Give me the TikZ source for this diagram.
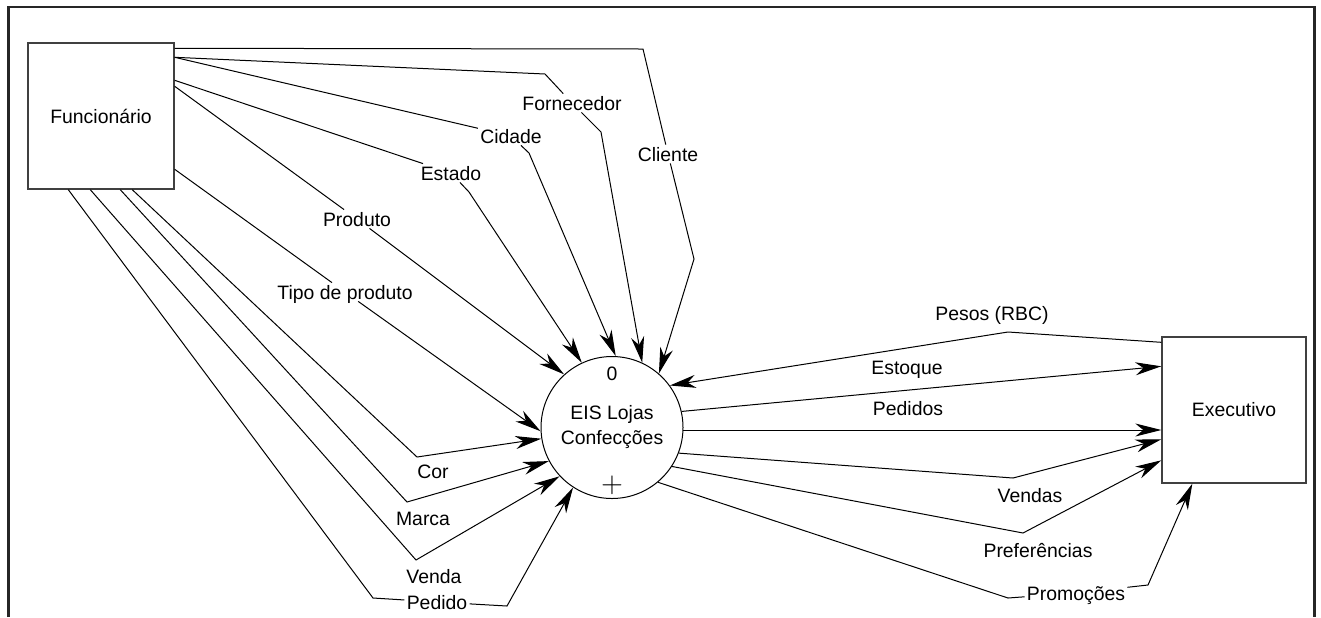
\documentclass[tikz,border=0pt]{standalone}
\usepackage{fontspec}
\setmainfont{Liberation Sans}
\usepackage{tikz}
\usetikzlibrary{arrows.meta, positioning}

\begin{document}
\begin{tikzpicture}[x=0.5pt, y=-0.5pt,
  >={Stealth[length=13pt, width=6.5pt, inset=4pt]},
  every node/.style={font=\fontsize{9.7}{12.5}\selectfont},
  entity/.style={draw=black!75, line width=0.7pt, minimum width=73pt, minimum height=73pt, inner sep=0pt},
  process/.style={draw, circle, line width=0.5pt, minimum size=71pt, inner sep=0pt, align=center},
  flow/.style={line width=0.5pt},
  lbl/.style={inner sep=1pt, text height=7pt, text depth=0pt},
  frame/.style={line width=1.3pt, black!85}]

\useasboundingbox (0,0) rectangle (1321,617);

% 外枠
\draw[frame] (8.7,617) -- (8.7,7) -- (1314.5,7) -- (1314.5,617);

% 外部エンティティ
\node[entity] (Func) at (101,116) {Funcionário};
\node[entity, minimum width=72pt] (Exec) at (1234,410) {Executivo};

% プロセス
\node[process] (EIS) at (612,427.5) {EIS Lojas\\Confecções};
\node (EISnum) at (612,374) {0};
\node (EISplus) at (612,485) {\fontsize{14}{14}\selectfont$+$};

% フローのラベル
\node[lbl] (Cli) at (668,154) {Cliente};
\node[lbl] (Forn) at (572,103) {Fornecedor};
\node[lbl] (Cid) at (511,136) {Cidade};
\node[lbl] (Est) at (451,173) {Estado};
\node[lbl] (Prod) at (357,219) {Produto};
\node[lbl] (Tipo) at (345,292) {Tipo de produto};
\node[lbl] (Cor) at (433,471) {Cor};
\node[lbl] (Marca) at (423,518) {Marca};
\node[lbl] (Venda) at (434,576) {Venda};
\node[lbl] (Ped) at (437,602) {Pedido};
\node[lbl] (Pesos) at (992,313) {Pesos (RBC)};
\node[lbl] (Estq) at (907,367) {Estoque};
\node[lbl] (Peds) at (908,408) {Pedidos};
\node[lbl] (Vends) at (1030,495) {Vendas};
\node[lbl] (Pref) at (1038,550) {Preferências};
\node[lbl] (Prom) at (1076,593) {Promoções};

% Funcionário -> EIS
\draw[flow] ([yshift=-3pt]Func.north east) -- (643,49) -- (Cli);
\draw[flow,->] (Cli) -- (694,259) -- (EIS.49.7);
\draw[flow] ([yshift=-7.5pt]Func.north east) -- (545,74) -- (Forn);
\draw[flow,->] (Forn) -- (601,132) -- (EIS.65.4);
\draw[flow] ([yshift=-7.5pt]Func.north east) -- (Cid);
\draw[flow,->] (Cid) -- (529,153) -- (EIS.87.6);
\draw[flow] ([yshift=-19pt]Func.north east) -- (Est);
\draw[flow,->] (Est) -- (469,192) -- (EIS.115);
\draw[flow] ([yshift=-22pt]Func.north east) -- (Prod);
\draw[flow,->] (Prod) -- (EIS.132.5);
\draw[flow] ([yshift=-63.5pt]Func.north east) -- (Tipo);
\draw[flow,->] (Tipo) -- (EIS.183.7);
\draw[flow,->] ([xshift=52.5pt]Func.south west) -- (417,457) -- (EIS.189.5);
\draw[flow,->] ([xshift=46.5pt]Func.south west) -- (407,502) -- (EIS.208.2);
\draw[flow,->] ([xshift=31.5pt]Func.south west) -- (416,560) -- (EIS.223.8);
\draw[flow] ([xshift=20.5pt]Func.south west) -- (373,598) -- (Ped);
\draw[flow,->] (Ped) -- (507,606) -- (EIS.237.2);

% EIS <-> Executivo
\draw[flow,->] ([yshift=-3pt]Exec.north west) -- (1008,332) -- (EIS.36.7);
\draw[flow,->] (EIS.13.8) -- ([yshift=-15pt]Exec.north west);
\draw[flow,->] (EIS.358.4) -- (EIS.358.4 -| Exec.west);
\draw[flow,->] (EIS.339.2) -- (1013,478) -- ([yshift=-51.5pt]Exec.north west);
\draw[flow,->] (EIS.327.7) -- (1023,533) -- ([yshift=-62pt]Exec.north west);
\draw[flow] (EIS.310.2) -- (1008,598) -- (Prom);
\draw[flow,->] (Prom) -- (1148,585) -- ([xshift=15.5pt]Exec.south west);

\end{tikzpicture}
\end{document}
